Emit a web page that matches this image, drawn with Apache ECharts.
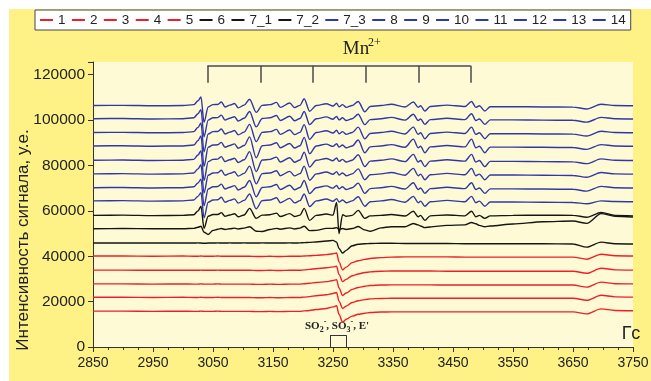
<!DOCTYPE html>
<html>
<head>
<meta charset="utf-8">
<script src="https://cdn.jsdelivr.net/npm/echarts@6/dist/echarts.min.js"></script>
<style>
  html, body { margin: 0; padding: 0; background: #fff; }
  #chart { width: 651px; height: 381px; }
</style>
</head>
<body>
<div id="chart"></div>
<script>
// magnetic field, G (shared by every spectrum)
const fields = [
  2850, 2900, 2950, 3000, 3018, 3025, 3030, 3035, 3042, 3050,
  3058, 3064, 3070, 3078, 3086, 3092, 3102, 3111, 3122, 3132,
  3145, 3156, 3162, 3178, 3186, 3195, 3202, 3211, 3222, 3239,
  3250, 3256, 3260, 3266, 3272, 3282, 3292, 3303, 3312, 3330,
  3347, 3370, 3384, 3392, 3396, 3403, 3412, 3440, 3470, 3481,
  3488, 3494, 3503, 3512, 3550, 3600, 3650, 3673, 3697, 3720,
  3750
];

// signal intensity, thousands of a.u. (spectra are stacked)
const s1 = [
  15.8, 15.8, 15.7, 15.8, 15.7, 15.7, 15.8, 15.7, 15.7, 15.7,
  15.8, 15.7, 15.7, 15.7, 15.7, 15.7, 15.7, 15.7, 15.6, 15.6,
  15.7, 15.6, 15.6, 15.7, 15.7, 15.7, 15.9, 16.1, 16.5, 17.0,
  17.7, 18.2, 14.4, 11.0, 12.2, 13.6, 14.4, 14.9, 15.2, 15.4,
  15.5, 15.5, 15.5, 15.5, 15.5, 15.5, 15.5, 15.5, 15.5, 15.5,
  15.5, 15.5, 15.5, 15.5, 15.5, 15.5, 15.5, 14.6, 16.8, 16.1,
  16.0
];
const s2 = [
  21.9, 21.9, 21.8, 21.9, 21.8, 21.8, 21.9, 21.8, 21.8, 21.8,
  21.9, 21.8, 21.8, 21.8, 21.8, 21.8, 21.8, 21.8, 21.7, 21.7,
  21.8, 21.7, 21.7, 21.8, 21.8, 21.8, 22.0, 22.2, 22.6, 23.0,
  23.6, 24.0, 20.2, 17.0, 18.0, 19.6, 20.4, 20.9, 21.2, 21.4,
  21.5, 21.5, 21.5, 21.5, 21.5, 21.5, 21.5, 21.5, 21.5, 21.5,
  21.5, 21.5, 21.5, 21.5, 21.5, 21.5, 21.5, 20.6, 22.8, 22.1,
  22.0
];
const s3 = [
  27.8, 27.8, 27.7, 27.8, 27.7, 27.7, 27.8, 27.7, 27.7, 27.7,
  27.8, 27.7, 27.7, 27.7, 27.7, 27.7, 27.7, 27.7, 27.6, 27.6,
  27.7, 27.6, 27.6, 27.7, 27.7, 27.7, 27.9, 28.1, 28.4, 28.8,
  29.3, 29.7, 26.0, 22.7, 23.8, 25.4, 26.2, 26.8, 27.1, 27.3,
  27.4, 27.4, 27.4, 27.4, 27.4, 27.4, 27.4, 27.3, 27.3, 27.3,
  27.3, 27.3, 27.3, 27.3, 27.3, 27.3, 27.3, 26.4, 28.6, 27.9,
  27.8
];
const s4 = [
  33.9, 33.9, 33.8, 33.9, 33.8, 33.8, 33.9, 33.8, 33.8, 33.8,
  33.9, 33.8, 33.8, 33.8, 33.8, 33.8, 33.8, 33.8, 33.7, 33.7,
  33.8, 33.7, 33.7, 33.8, 33.8, 33.8, 34.0, 34.2, 34.5, 34.9,
  35.3, 35.6, 32.0, 28.8, 29.8, 31.4, 32.2, 32.8, 33.1, 33.4,
  33.5, 33.5, 33.5, 33.5, 33.5, 33.5, 33.5, 33.4, 33.4, 33.4,
  33.4, 33.4, 33.4, 33.4, 33.4, 33.4, 33.4, 32.5, 34.7, 34.0,
  33.9
];
const s5 = [
  40.1, 40.1, 40.0, 40.1, 40.0, 40.0, 40.1, 40.0, 40.0, 40.0,
  40.1, 40.0, 40.0, 40.0, 40.0, 40.0, 40.0, 40.0, 39.9, 39.9,
  40.0, 39.9, 39.9, 40.0, 40.0, 40.0, 40.1, 40.2, 40.4, 40.7,
  41.1, 41.4, 37.5, 34.0, 35.2, 37.2, 38.0, 38.6, 39.0, 39.4,
  39.6, 39.7, 39.7, 39.7, 39.7, 39.7, 39.7, 39.7, 39.6, 39.6,
  39.6, 39.6, 39.6, 39.6, 39.6, 39.6, 39.6, 38.7, 40.9, 40.2,
  40.1
];
const s6 = [
  45.8, 45.8, 45.9, 45.8, 45.8, 45.9, 45.8, 45.7, 45.8, 45.8,
  45.9, 45.8, 45.8, 45.9, 45.8, 45.8, 45.9, 45.8, 45.8, 45.9,
  45.8, 45.8, 45.8, 45.9, 45.8, 45.9, 46.0, 46.1, 46.3, 46.7,
  47.0, 46.2, 43.4, 41.4, 42.6, 44.6, 45.3, 45.5, 45.6, 45.7,
  45.7, 45.6, 45.6, 45.6, 45.6, 45.6, 45.6, 45.6, 45.5, 45.5,
  45.5, 45.5, 45.5, 45.5, 45.5, 45.5, 45.4, 44.0, 46.2, 45.5,
  45.4
];
const s7_1 = [
  52.1, 52.2, 52.1, 52.1, 52.3, 52.8, 53.2, 50.6, 49.6, 51.4,
  51.9, 52.2, 51.8, 52.1, 52.4, 52.0, 52.4, 53.0, 51.0, 50.9,
  51.8, 52.3, 51.9, 52.5, 52.0, 52.4, 53.2, 51.3, 51.4, 52.3,
  52.3, 52.6, 51.8, 52.2, 51.8, 52.2, 53.1, 51.6, 51.0, 52.5,
  53.0, 53.0, 54.4, 53.8, 53.3, 52.6, 52.9, 53.6, 53.8, 54.9,
  54.3, 53.6, 53.0, 53.3, 54.2, 55.2, 55.5, 54.5, 58.8, 57.6,
  57.3
];
const s7_2 = [
  58.0, 58.1, 57.9, 58.0, 58.3, 60.0, 62.0, 52.3, 57.6, 58.4,
  58.4, 59.2, 57.6, 58.2, 58.7, 57.4, 58.2, 61.1, 56.7, 58.1,
  58.3, 59.0, 57.5, 58.8, 57.5, 58.1, 61.1, 55.8, 58.0, 58.6,
  58.1, 63.7, 50.0, 58.3, 57.6, 58.0, 60.2, 56.7, 57.8, 58.0,
  58.4, 57.7, 59.8, 57.4, 58.0, 55.8, 57.8, 58.2, 57.8, 59.8,
  57.4, 58.0, 56.7, 57.8, 58.0, 58.1, 58.0, 57.2, 59.3, 58.0,
  57.8
];
const s7_3 = [
  64.4, 64.5, 64.3, 64.4, 64.8, 66.4, 68.0, 56.9, 63.8, 64.8,
  64.9, 66.0, 63.8, 64.6, 65.3, 63.4, 64.6, 67.4, 60.9, 64.5,
  64.8, 65.8, 63.6, 65.5, 63.5, 64.5, 67.4, 61.9, 64.4, 65.2,
  64.2, 65.4, 63.9, 64.8, 63.6, 64.4, 66.2, 62.0, 64.0, 64.4,
  65.0, 63.8, 66.4, 63.6, 64.3, 62.0, 64.0, 64.6, 64.0, 66.4,
  63.6, 64.3, 62.0, 63.9, 63.9, 63.8, 63.7, 63.1, 64.4, 64.1,
  64.0
];
const s8 = [
  70.2, 70.3, 70.1, 70.2, 70.6, 72.3, 74.0, 62.2, 69.6, 70.6,
  70.7, 71.8, 69.6, 70.4, 71.1, 69.2, 70.4, 73.4, 66.2, 70.3,
  70.6, 71.6, 69.4, 71.3, 69.3, 70.3, 73.4, 67.6, 70.2, 71.0,
  70.0, 71.2, 69.7, 70.6, 69.4, 70.2, 72.2, 67.7, 69.8, 70.2,
  70.8, 69.6, 72.4, 69.4, 70.1, 67.7, 69.8, 70.4, 69.8, 72.4,
  69.4, 70.1, 67.7, 69.7, 69.7, 69.6, 69.5, 68.7, 70.8, 70.2,
  70.1
];
const s9 = [
  76.3, 76.4, 76.2, 76.3, 76.7, 78.5, 80.3, 67.8, 75.7, 76.7,
  76.8, 77.9, 75.7, 76.5, 77.2, 75.3, 76.5, 79.7, 71.9, 76.4,
  76.7, 77.7, 75.5, 77.4, 75.4, 76.4, 79.7, 73.5, 76.3, 77.1,
  76.1, 77.3, 75.8, 76.7, 75.5, 76.3, 78.5, 73.7, 75.9, 76.3,
  76.9, 75.7, 78.7, 75.5, 76.2, 73.7, 75.9, 76.5, 75.9, 78.7,
  75.5, 76.2, 73.7, 75.8, 75.8, 75.7, 75.6, 74.8, 76.9, 76.3,
  76.2
];
const s10 = [
  82.3, 82.4, 82.2, 82.3, 82.7, 84.6, 86.5, 73.3, 81.7, 82.7,
  82.8, 83.9, 81.7, 82.5, 83.2, 81.3, 82.5, 86.1, 77.3, 82.4,
  82.7, 83.7, 81.5, 83.4, 81.4, 82.4, 85.9, 79.3, 82.3, 83.1,
  82.1, 83.3, 81.8, 82.7, 81.5, 82.3, 84.7, 79.5, 81.9, 82.3,
  82.9, 81.7, 84.9, 81.5, 82.2, 79.5, 81.9, 82.5, 81.9, 84.9,
  81.5, 82.2, 79.5, 81.8, 81.8, 81.7, 81.6, 80.8, 82.9, 82.3,
  82.2
];
const s11 = [
  88.6, 88.7, 88.5, 88.6, 89.0, 91.0, 93.0, 79.6, 88.0, 89.0,
  89.1, 90.2, 88.0, 88.8, 89.5, 87.6, 88.8, 92.6, 83.4, 88.7,
  89.0, 90.0, 87.8, 89.7, 87.7, 88.7, 92.4, 85.2, 88.6, 89.4,
  88.4, 89.6, 88.1, 89.0, 87.8, 88.6, 91.2, 85.6, 88.2, 88.6,
  89.2, 88.0, 91.6, 87.8, 88.5, 85.6, 88.2, 88.8, 88.2, 91.6,
  87.8, 88.5, 85.6, 88.1, 88.1, 88.0, 87.9, 87.1, 89.2, 88.6,
  88.5
];
const s12 = [
  94.5, 94.6, 94.4, 94.5, 94.9, 96.8, 98.7, 86.0, 93.9, 94.9,
  95.0, 96.1, 93.9, 94.7, 95.4, 93.5, 94.7, 98.1, 90.5, 94.6,
  94.9, 95.9, 93.7, 95.6, 93.6, 94.6, 98.0, 91.5, 94.5, 95.3,
  94.3, 95.5, 94.0, 94.9, 93.7, 94.5, 96.9, 91.7, 94.1, 94.5,
  95.1, 93.9, 96.9, 93.7, 94.4, 91.8, 94.1, 94.7, 94.1, 96.9,
  93.7, 94.4, 91.8, 94.0, 94.0, 93.9, 93.8, 93.0, 95.1, 94.5,
  94.4
];
const s13 = [
  100.6, 100.7, 100.5, 100.6, 101.0, 102.8, 104.6, 92.6, 100.0, 101.0,
  101.1, 102.2, 100.0, 100.8, 101.5, 99.6, 100.8, 103.8, 97.0, 100.7,
  101.0, 102.0, 99.8, 101.7, 99.7, 100.7, 103.8, 98.0, 100.6, 101.4,
  100.4, 101.6, 100.1, 101.0, 99.8, 100.6, 102.6, 98.0, 100.2, 100.6,
  101.2, 100.0, 102.6, 99.8, 100.5, 98.1, 100.2, 100.8, 100.2, 102.8,
  99.8, 100.5, 98.1, 100.1, 100.1, 100.0, 99.9, 99.1, 101.2, 100.6,
  100.5
];
const s14 = [
  106.4, 106.5, 106.3, 106.4, 106.8, 108.5, 110.2, 99.0, 105.8, 106.8,
  106.9, 108.0, 105.8, 106.6, 107.3, 105.4, 106.6, 109.2, 103.4, 106.5,
  106.8, 107.8, 105.6, 107.5, 105.5, 106.5, 109.4, 103.9, 106.4, 107.2,
  106.2, 107.4, 105.9, 106.8, 105.6, 106.4, 108.2, 103.7, 106.0, 106.4,
  107.0, 105.8, 108.0, 105.6, 106.3, 104.0, 106.0, 106.6, 106.0, 108.2,
  105.6, 106.3, 104.0, 105.9, 105.9, 105.8, 105.7, 104.9, 107.0, 106.4,
  106.3
];

const seriesNames = ["1", "2", "3", "4", "5", "6", "7_1", "7_2", "7_3",
  "8", "9", "10", "11", "12", "13", "14"];
const seriesValues = [s1, s2, s3, s4, s5, s6, s7_1, s7_2, s7_3,
  s8, s9, s10, s11, s12, s13, s14];

// Mn2+ hyperfine sextet marks and the SO2-/SO3-/E' mark (field, G)
const mnMarks = [3040.7, 3129.5, 3216.7, 3304.5, 3392.8, 3479.5];
const mnBracket = [124.0, 116.5];      // top / tick end, thousands
const soMarks = [3245, 3272];
const soBracket = [0, 5.2];

const RED = "#ee1f26";
const BLACK = "#151515";
const BLUE = "#3038a8";
const colorOf = (name) => {
  if (["1", "2", "3", "4", "5"].includes(name)) return RED;
  if (["6", "7_1", "7_2"].includes(name)) return BLACK;
  return BLUE;
};

const chart = echarts.init(document.getElementById("chart"), null, { renderer: "canvas" });

const spectra = seriesNames.map((name, k) => ({
  name,
  type: "line",
  data: fields.map((f, i) => [f, seriesValues[k][i]]),
  symbol: "none",
  silent: true,
  smooth: 0.3,
  smoothMonotone: "x",
  lineStyle: { width: 1.4, color: colorOf(name) },
  itemStyle: { color: colorOf(name) },
}));

const mnSegments = [
  { coords: [[mnMarks[0], mnBracket[0]], [mnMarks[mnMarks.length - 1], mnBracket[0]]] },
  ...mnMarks.map((m) => ({ coords: [[m, mnBracket[0]], [m, mnBracket[1]]] })),
];
const soSegments = [
  { coords: [[soMarks[0], soBracket[0]], [soMarks[0], soBracket[1]]] },
  { coords: [[soMarks[0], soBracket[1]], [soMarks[1], soBracket[1]]] },
  { coords: [[soMarks[1], soBracket[1]], [soMarks[1], soBracket[0]]] },
];

chart.setOption({
  animation: false,
  backgroundColor: "#fef287",
  textStyle: { fontFamily: "Liberation Sans" },
  legend: {
    data: seriesNames,
    left: 35,
    top: 10,
    padding: [3, 5],
    icon: "rect",
    itemWidth: 13,
    itemHeight: 2,
    itemGap: 6.4,
    backgroundColor: "#ffffff",
    borderColor: "#444",
    borderWidth: 1,
    borderRadius: 0,
    textStyle: { fontSize: 13.5, color: "#222", fontFamily: "Liberation Sans" },
  },
  grid: {
    left: 93, right: 18, top: 62, bottom: 34,
    show: true, backgroundColor: "#fffad6", borderWidth: 0,
    outerBoundsMode: "none",
  },
  xAxis: {
    type: "value",
    min: 2850,
    max: 3750,
    interval: 100,
    axisLine: { lineStyle: { color: "#333", width: 1 } },
    axisTick: { length: 5, lineStyle: { color: "#333" } },
    minorTick: { show: true, splitNumber: 4, length: 3, lineStyle: { color: "#333" } },
    splitLine: { show: false },
    axisLabel: { fontSize: 14, color: "#222", margin: 9, formatter: (v) => String(v) },
  },
  yAxis: {
    type: "value",
    min: 0,
    max: 125.6,
    interval: 20,
    axisLine: { show: true, lineStyle: { color: "#333", width: 1 } },
    axisTick: { show: true, length: 5, lineStyle: { color: "#333" } },
    splitLine: { show: false },
    axisLabel: {
      fontSize: 15.5, color: "#222", margin: 8,
      formatter: (v) => (Math.abs(v % 20) < 1e-6 ? String(Math.round(v * 1000)) : ""),
    },
  },
  graphic: [
    { type: "rect", shape: { x: 0, y: 0, width: 651, height: 9 }, style: { fill: "#fff" }, silent: true },
    { type: "rect", shape: { x: 0, y: 0, width: 9, height: 381 }, style: { fill: "#fff" }, silent: true },
    {
      type: "text", x: 23, y: 240, rotation: Math.PI / 2, silent: true,
      style: {
        text: "Интенсивность сигнала, у.е.", font: '17px "Liberation Sans"',
        fill: "#222", align: "center", verticalAlign: "middle",
      },
    },
    {
      type: "text", x: 631, y: 334, silent: true,
      style: { text: "Гс", font: '18px "Liberation Sans"', fill: "#222", align: "center", verticalAlign: "middle" },
    },
    {
      type: "text", x: 356, y: 59, silent: true,
      style: { text: "Mn", font: '19px "Liberation Serif"', fill: "#222", align: "center", verticalAlign: "bottom" },
    },
    {
      type: "text", x: 368, y: 49, silent: true,
      style: { text: "2+", font: '12px "Liberation Serif"', fill: "#222", align: "left", verticalAlign: "bottom" },
    },
    {
      type: "text", x: 337, y: 326, silent: true,
      style: {
        text: "{t|SO}{s|2}{p|-}{t|, SO}{s|3}{p|-}{t|, E'}",
        align: "center", verticalAlign: "middle",
        rich: {
          t: { font: 'bold 11px "Liberation Serif"', fill: "#222", lineHeight: 16 },
          s: { font: 'bold 8px "Liberation Serif"', fill: "#222", lineHeight: 16, verticalAlign: "bottom" },
          p: { font: 'bold 8px "Liberation Serif"', fill: "#222", lineHeight: 16, verticalAlign: "top" },
        },
      },
    },
  ],
  series: [
    ...spectra,
    {
      type: "lines",
      coordinateSystem: "cartesian2d",
      silent: true,
      polyline: false,
      lineStyle: { color: "#4a4a4a", width: 1.5, opacity: 1 },
      data: mnSegments,
    },
    {
      type: "lines",
      coordinateSystem: "cartesian2d",
      silent: true,
      polyline: false,
      lineStyle: { color: "#333", width: 1, opacity: 1 },
      data: soSegments,
    },
  ],
});
</script>
</body>
</html>
